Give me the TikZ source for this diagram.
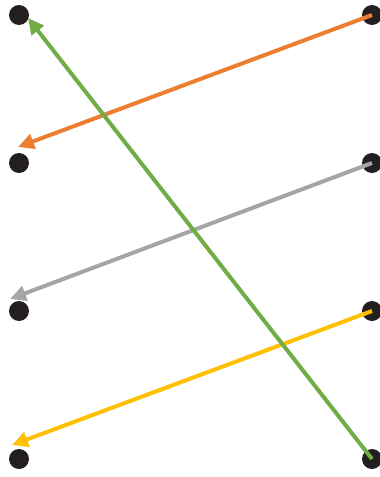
\documentclass[tikz,border=0pt]{standalone}
\usetikzlibrary{arrows.meta}
\definecolor{dotc}{HTML}{231F20}
\definecolor{aorange}{HTML}{ED7D31}
\definecolor{agray}{HTML}{A5A5A5}
\definecolor{ayellow}{HTML}{FFC000}
\definecolor{agreen}{HTML}{70AD47}
\begin{document}
\begin{tikzpicture}[x=1pt,y=-1pt,
  dotnode/.style={circle,fill=dotc,inner sep=0pt,minimum size=20pt},
  link/.style={line width=4pt,-{Triangle[length=16pt,width=15pt]}}]
\useasboundingbox (0,0) rectangle (380,477);
\node[dotnode] (l1) at (19,15) {};
\node[dotnode] (l2) at (19,163) {};
\node[dotnode] (l3) at (19,311) {};
\node[dotnode] (l4) at (19,459) {};
\node[dotnode] (r1) at (372,15) {};
\node[dotnode] (r2) at (372,163) {};
\node[dotnode] (r3) at (372,311) {};
\node[dotnode] (r4) at (372,459) {};
\coordinate (t1) at (18,147);
\coordinate (t2) at (10,299);
\coordinate (t3) at (12,445);
\coordinate (t4) at (28,18);
\draw[link,aorange] (r1.center) -- (t1);
\draw[link,agray] (r2.center) -- (t2);
\draw[link,ayellow] (r3.center) -- (t3);
\draw[link,agreen] (r4.center) -- (t4);
\end{tikzpicture}
\end{document}
